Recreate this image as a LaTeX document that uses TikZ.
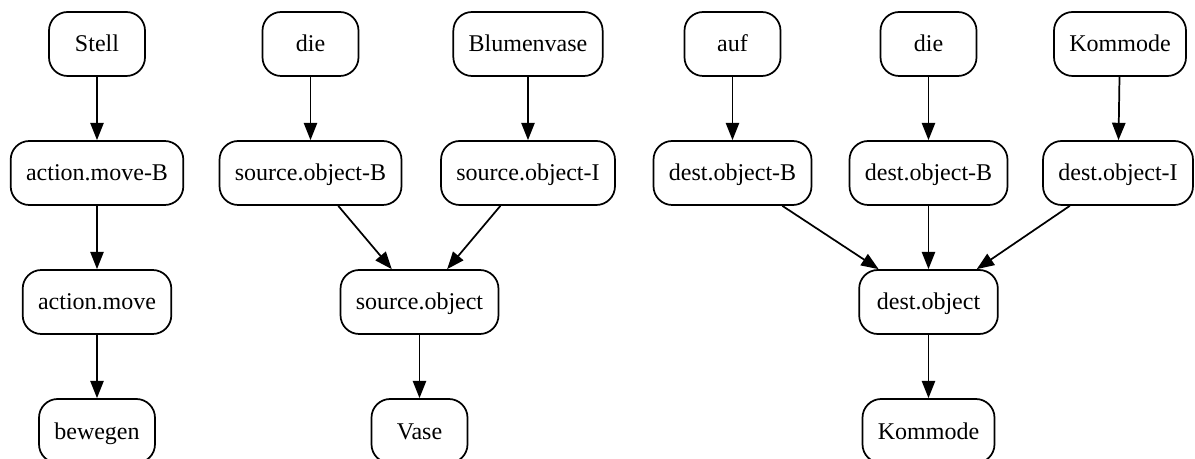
\documentclass[tikz,border=0pt]{standalone}
\usepackage{fontspec}
\setmainfont{Liberation Serif}
\newfontfamily\boxfont{Liberation Serif}
\usetikzlibrary{arrows.meta}

\begin{document}
\begin{tikzpicture}[
  x=0.75pt, y=-0.75pt,
  box/.style={rectangle, rounded corners=14pt, minimum width=72pt, minimum height=48pt,
              inner xsep=11.5pt, draw=black, line width=1.3pt, font=\boxfont\fontsize{18}{22}\selectfont,
              text height=13pt, text depth=1pt},
  arrow/.style={-{Triangle[length=13pt, width=10pt]}, line width=1.3pt}
]
\useasboundingbox (0,0) rectangle (1195,459);

% Boxes: action
\node[box] (stell) at (97,44) {Stell};
\node[box] (moveB) at (97,173) {action.move-B};
\node[box] (move) at (97,302) {action.move};
\node[box] (bewegen) at (97,431) {bewegen};

% Boxes: source object
\node[box] (die1) at (310.5,44) {die};
\node[box] (blumenvase) at (528,44) {Blumenvase};
\node[box] (srcB) at (310.5,173) {source.object-B};
\node[box] (srcI) at (528,173) {source.object-I};
\node[box] (src) at (419.5,302) {source.object};
\node[box] (vase) at (419.5,431) {Vase};

% Boxes: destination object
\node[box] (auf) at (732.5,44) {auf};
\node[box] (die2) at (928.5,44) {die};
\node[box] (kommode1) at (1120,44) {Kommode};
\node[box] (destB1) at (732.5,173) {dest.object-B};
\node[box] (destB2) at (928.5,173) {dest.object-B};
\node[box, minimum width=112pt] (destI) at (1118,173) {dest.object-I};
\node[box, minimum width=104pt] (dest) at (928.5,302) {dest.object};
\node[box] (kommode2) at (928.5,431) {Kommode};

% Arrows
\draw[arrow] (stell) -- (moveB);
\draw[arrow] (moveB) -- (move);
\draw[arrow] (move) -- (bewegen);

\draw[arrow] (die1) -- (srcB);
\draw[arrow] (blumenvase) -- (srcI);
\draw[arrow] (srcB) -- (src);
\draw[arrow] (srcI) -- (src);
\draw[arrow] (src) -- (vase);

\draw[arrow] (auf) -- (destB1);
\draw[arrow] (die2) -- (destB2);
\draw[arrow] (kommode1) -- (destI);
\draw[arrow] (destB1) -- (dest);
\draw[arrow] (destB2) -- (dest);
\draw[arrow] (destI) -- (dest);
\draw[arrow] (dest) -- (kommode2);
\end{tikzpicture}
\end{document}
